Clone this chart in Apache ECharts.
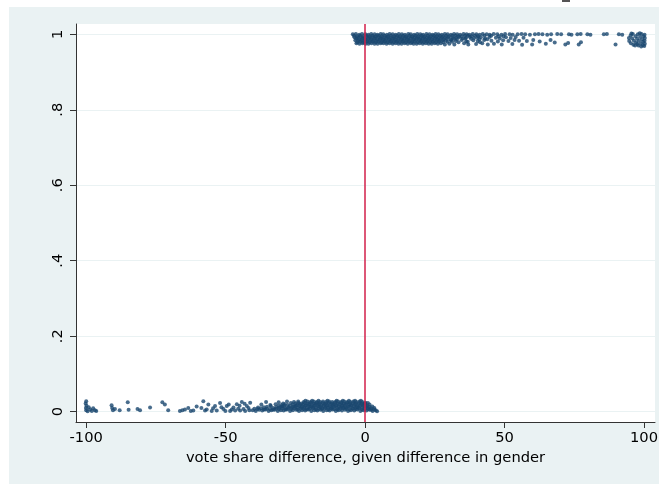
<!DOCTYPE html>
<html>
<head>
<meta charset="utf-8">
<script src="https://cdn.jsdelivr.net/npm/echarts@6/dist/echarts.min.js"></script>
<style>
  html, body { margin: 0; padding: 0; background: #fff; }
  #frame { position: absolute; left: 9px; top: 7px; width: 650px; height: 477px; background: #EAF2F3; }
  #chart { position: absolute; left: 0; top: 0; width: 659px; height: 484px; }
</style>
</head>
<body>
<div id="frame"></div>
<div id="chart"></div>
<script>
// Axis ticks and labels
const xTickVals = [-100, -50, 0, 50, 100];
const xTickText = ['-100', '-50', '0', '50', '100'];
const yTickVals = [0, 0.2, 0.4, 0.6, 0.8, 1];
const yTickText = ['0', '.2', '.4', '.6', '.8', '1'];
const xTitle = 'vote share difference, given difference in gender';
const cutoff = 0;

// Observations with outcome 0 (jittered upward), [margin, outcome]
const loseObs = [
  [-100,0.028],[-100.2,0.022],[-99.9,0.016],[-100.1,0.010],[-100,0.004],[-99.5,0.001],[-99.1,0.012],[-98.6,0.006],
  [-98.0,0.002],[-97.5,0.009],[-96.9,0.004],[-96.4,0.002],
  [-90.9,0.017],[-90.7,0.010],[-90.4,0.004],[-89.7,0.007],[-88.0,0.004],[-85.1,0.025],[-84.8,0.005],[-81.6,0.007],
  [-80.7,0.004],[-77.1,0.011],[-72.7,0.025],[-71.8,0.019],[-70.6,0.004],
  [-66.4,0.002],[-65.5,0.004],[-64.6,0.006],[-63.4,0.010],[-62.5,0.002],[-61.6,0.003],[-60.4,0.014],[-58.7,0.010],
  [-58.0,0.028],[-57.4,0.003],[-56.8,0.006],[-56.2,0.019],[-55.0,0.002],[-54.5,0.009],[-53.8,0.015],[-53.2,0.003],
  [-52.0,0.023],[-51.5,0.012],[-50.8,0.007],[-50.1,0.002],[-49.6,0.015],[-48.4,0.002],[-47.8,0.006],[-47.2,0.011],
  [-46.0,0.020],[-45.5,0.008],[-44.8,0.003],[-44.2,0.026],[-43.6,0.007],[-43.0,0.002],[-42.4,0.015],[-41.8,0.010],
  [-41.2,0.024],[-48.9,0.019],[-46.6,0.003],[-45.0,0.016],[-43.2,0.021],[-41.5,0.004],
  [-40.3,0.004],[-39.2,0.002],[-38.0,0.005],[-36.9,0.003],[-35.8,0.006],[-34.6,0.002],[-33.6,0.004],[-32.5,0.005],
  [-31.3,0.002],[-30.2,0.004],[-29.2,0.003],[-28.1,0.006],[-26.9,0.002],[-25.9,0.004],[-24.7,0.005],[-23.7,0.002],
  [-22.6,0.004],[-21.5,0.003],[-20.3,0.006],[-19.3,0.002],[-18.2,0.004],[-17.1,0.003],[-16.0,0.005],[-15.0,0.002],
  [-13.8,0.004],[-12.7,0.003],[-11.6,0.006],[-10.5,0.002],[-9.5,0.004],[-8.3,0.003],[-7.2,0.005],[-6.1,0.002],
  [-5.1,0.004],[-3.9,0.003],[-2.8,0.006],[-1.7,0.002],[-0.6,0.004],[0.5,0.003],[1.6,0.005],[2.7,0.002],
  [3.8,0.004],[4.3,0.001],
  [-39.7,0.008],[-38.6,0.007],[-37.4,0.009],[-36.3,0.006],[-35.2,0.008],[-34.1,0.007],[-33.0,0.006],[-31.9,0.008],
  [-30.8,0.007],[-29.7,0.009],[-28.6,0.006],[-27.5,0.008],[-26.4,0.007],[-25.3,0.009],[-24.2,0.006],[-23.1,0.008],
  [-22.0,0.007],[-20.9,0.006],[-19.8,0.008],[-18.7,0.009],[-17.6,0.006],[-16.5,0.008],[-15.4,0.007],[-14.3,0.009],
  [-13.2,0.006],[-12.1,0.008],[-11.0,0.007],[-9.9,0.006],[-8.8,0.008],[-7.7,0.009],[-6.6,0.007],[-5.5,0.006],
  [-4.4,0.008],[-3.3,0.007],[-2.2,0.009],[-1.1,0.006],[0.0,0.008],[1.1,0.007],[2.2,0.005],[3.3,0.006],
  [-38.4,0.011],[-36.3,0.012],[-35.2,0.013],[-33.0,0.010],[-31.9,0.012],[-30.8,0.011],[-29.6,0.013],[-28.5,0.010],
  [-27.5,0.012],[-26.3,0.011],[-25.2,0.013],[-24.1,0.011],[-23.0,0.012],[-21.9,0.012],[-20.9,0.010],[-19.8,0.013],
  [-18.6,0.011],[-17.6,0.011],[-16.5,0.013],[-15.4,0.010],[-14.3,0.012],[-13.2,0.011],[-12.1,0.011],[-11.1,0.013],
  [-10.0,0.010],[-8.9,0.012],[-7.8,0.011],[-6.7,0.011],[-5.6,0.013],[-4.5,0.010],[-3.4,0.012],[-2.3,0.011],
  [-1.1,0.011],[0.0,0.013],[1.1,0.010],[2.2,0.009],[3.3,0.010],
  [-33.8,0.015],[-31.0,0.016],[-29.9,0.014],[-28.9,0.016],[-27.0,0.015],[-25.8,0.014],[-24.8,0.016],[-23.6,0.015],
  [-22.5,0.014],[-21.4,0.016],[-20.3,0.015],[-19.2,0.014],[-18.1,0.016],[-17.0,0.015],[-15.9,0.014],[-14.8,0.016],
  [-13.7,0.015],[-12.6,0.014],[-11.5,0.016],[-10.4,0.015],[-9.4,0.014],[-8.3,0.016],[-7.2,0.015],[-6.1,0.014],
  [-5.0,0.016],[-3.9,0.015],[-2.8,0.014],[-1.7,0.016],[-0.6,0.015],[0.5,0.014],[1.5,0.013],[2.6,0.014],
  [-37.2,0.019],[-34.0,0.018],[-32.1,0.020],[-30.0,0.018],[-28.8,0.020],[-27.7,0.018],[-26.0,0.020],[-24.5,0.018],
  [-23.4,0.020],[-22.3,0.019],[-21.2,0.018],[-20.1,0.020],[-19.0,0.018],[-17.9,0.020],[-16.8,0.019],[-15.7,0.018],
  [-14.6,0.020],[-13.5,0.018],[-12.4,0.020],[-11.4,0.019],[-10.3,0.018],[-9.2,0.020],[-8.1,0.018],[-7.0,0.020],
  [-5.9,0.019],[-4.9,0.018],[-3.8,0.020],[-2.7,0.018],[-1.6,0.020],[-0.5,0.019],[0.6,0.017],[1.6,0.019],
  [-29.4,0.022],[-26.6,0.023],[-25.0,0.022],[-23.9,0.023],[-22.8,0.022],[-21.7,0.023],[-20.6,0.022],[-19.5,0.023],
  [-18.4,0.022],[-17.4,0.023],[-16.3,0.022],[-15.2,0.023],[-14.1,0.022],[-13.0,0.023],[-11.9,0.022],[-10.8,0.023],
  [-9.7,0.022],[-8.6,0.023],[-7.6,0.022],[-6.5,0.023],[-5.4,0.022],[-4.3,0.023],[-3.2,0.022],[-2.1,0.023],
  [-1.0,0.022],[0.1,0.021],[1.0,0.023],
  [-35.5,0.026],[-31.0,0.025],[-28.0,0.027],[-25.5,0.026],[-24.0,0.027],[-22.0,0.026],[-20.7,0.027],[-19.6,0.026],
  [-18.4,0.027],[-17.3,0.026],[-16.2,0.026],[-15.1,0.027],[-14.0,0.026],[-12.9,0.027],[-11.8,0.026],[-10.7,0.026],
  [-9.7,0.027],[-8.6,0.026],[-7.5,0.027],[-6.4,0.026],[-5.3,0.026],[-4.2,0.027],[-3.1,0.026],[-2.0,0.027],
  [-1.0,0.026],[0.1,0.024],
  [-21.4,0.029],[-19.0,0.029],[-16.7,0.029],[-13.5,0.029],[-10.2,0.029],[-8.0,0.029],[-5.8,0.029],[-3.6,0.029],
  [-1.5,0.029]
];

// Observations with outcome 1 (jittered downward), [margin, outcome]
const winObs = [
  [-4.4,1.0],[-3.3,1.001],[-2.1,0.999],[-1.1,1.001],[0.1,1.0],[1.2,0.999],[2.2,1.001],[3.4,1.0],[4.4,0.999],
  [5.6,1.001],[6.5,1.0],[7.8,0.999],[8.8,1.001],[9.9,1.0],[11.0,0.999],[12.1,1.001],[13.2,1.0],[14.3,0.999],
  [15.5,1.001],[16.4,1.0],[17.6,0.999],[18.7,1.001],[19.8,1.0],[20.8,0.999],[22.0,1.001],[23.1,1.0],[24.2,0.999],
  [25.3,1.001],[26.3,1.0],[27.5,0.999],[28.6,1.001],[29.6,1.0],[30.8,0.999],[31.9,1.001],[33.0,1.0],[34.1,0.999],
  [35.3,1.001],[36.4,1.0],[37.4,0.999],[38.6,1.001],[39.9,1.0],[41.1,0.999],[42.2,1.001],[43.6,1.0],[44.7,0.999],
  [46.1,1.001],[47.4,1.0],[48.9,0.999],[50.2,1.001],[51.8,1.0],[52.9,0.999],[54.7,1.0],[56.1,1.001],[57.4,1.0],
  [59.1,0.999],[60.9,1.0],[62.2,1.001],[63.6,1.0],[65.3,0.999],[66.7,1.0],[68.9,1.001],[70.3,1.0],[73.1,1.0],
  [74.0,0.999],[76.1,1.0],[77.3,1.001],[79.7,1.0],[80.8,0.999],[85.6,1.0],[86.7,1.001],[91.0,1.0],[92.2,0.999],
  [-4.0,0.996],[-2.9,0.995],[-1.8,0.996],[-0.7,0.995],[0.4,0.996],[1.5,0.995],[2.6,0.996],[3.7,0.995],
  [4.8,0.996],[5.9,0.995],[7.0,0.996],[8.1,0.995],[9.2,0.996],[10.3,0.995],[11.4,0.996],[12.5,0.995],
  [13.6,0.996],[14.7,0.995],[15.8,0.996],[16.9,0.995],[18.0,0.996],[19.1,0.995],[20.2,0.996],[21.3,0.995],
  [22.4,0.996],[23.5,0.995],[24.6,0.996],[25.7,0.995],[26.8,0.996],[27.9,0.995],[29.0,0.996],[30.1,0.995],
  [31.3,0.996],[32.4,0.996],[33.5,0.995],[34.6,0.995],[35.8,0.996],[36.9,0.996],[38.2,0.995],[39.4,0.996],
  [40.5,0.995],[42.8,0.996],[45.2,0.996],[47.9,0.995],[49.6,0.995],
  [-3.8,0.992],[-2.7,0.991],[-1.6,0.992],[-0.6,0.991],[0.5,0.992],[1.6,0.991],[2.7,0.992],[3.7,0.991],
  [4.9,0.992],[5.9,0.991],[7.0,0.991],[8.1,0.992],[9.2,0.991],[10.3,0.991],[11.3,0.992],[12.4,0.992],
  [13.5,0.991],[14.6,0.992],[15.6,0.991],[16.8,0.992],[17.8,0.991],[18.9,0.992],[20.0,0.991],[21.1,0.992],
  [22.2,0.991],[23.2,0.991],[24.4,0.992],[25.4,0.992],[26.5,0.991],[27.6,0.992],[28.7,0.991],[29.8,0.992],
  [31.4,0.990],[32.6,0.991],[33.7,0.992],[35.0,0.989],[36.2,0.991],[37.6,0.993],[39.1,0.990],[40.3,0.991],
  [41.5,0.992],[43.0,0.989],[44.6,0.993],[46.9,0.991],[48.3,0.989],[50.5,0.992],[52.2,0.990],[54.0,0.993],
  [56.8,0.991],
  [-3.2,0.988],[-2.1,0.987],[-1.0,0.988],[0.1,0.987],[1.1,0.988],[2.2,0.987],[3.3,0.988],[4.4,0.987],
  [5.5,0.988],[6.6,0.987],[7.6,0.988],[8.7,0.987],[9.8,0.988],[10.9,0.987],[12.0,0.988],[13.1,0.987],
  [14.1,0.988],[15.2,0.987],[16.3,0.988],[17.4,0.987],[18.5,0.988],[19.6,0.987],[20.6,0.988],[21.7,0.987],
  [22.8,0.988],[23.9,0.987],[25.0,0.988],[26.0,0.987],[27.1,0.988],[28.2,0.987],[29.3,0.988],[30.6,0.987],
  [31.8,0.988],[32.9,0.987],[35.9,0.988],[38.0,0.988],[41.0,0.987],[43.8,0.987],
  [-3.5,0.984],[-2.4,0.983],[-1.3,0.984],[-0.2,0.983],[0.8,0.983],[1.9,0.984],[3.0,0.983],[4.1,0.983],
  [5.2,0.984],[6.3,0.984],[7.3,0.983],[8.4,0.984],[9.5,0.983],[10.6,0.984],[11.7,0.983],[12.8,0.984],
  [13.8,0.983],[14.9,0.984],[16.0,0.983],[17.1,0.983],[18.2,0.984],[19.3,0.984],[20.3,0.983],[21.4,0.984],
  [22.5,0.983],[23.6,0.984],[24.7,0.983],[25.8,0.984],[26.8,0.983],[27.9,0.984],[29.0,0.983],
  [30.8,0.984],[32.5,0.982],[34.6,0.985],[36.3,0.981],[38.8,0.984],[40.4,0.982],[42.7,0.985],[45.3,0.983],
  [47.6,0.981],[49.5,0.984],[51.4,0.982],[53.6,0.985],[55.2,0.983],[58.0,0.982],[60.3,0.985],[62.6,0.981],
  [-2.8,0.979],[-1.7,0.980],[-0.6,0.979],[0.5,0.980],[1.6,0.979],[2.7,0.980],[3.8,0.979],[4.8,0.980],
  [5.9,0.979],[7.0,0.980],[8.1,0.979],[9.2,0.980],[10.3,0.979],[11.3,0.980],[12.4,0.979],[13.5,0.980],
  [14.6,0.979],[15.7,0.980],[16.8,0.979],[17.8,0.980],[18.9,0.979],[20.0,0.980],[21.1,0.979],[22.2,0.980],
  [23.3,0.979],[24.3,0.980],[25.4,0.979],[26.5,0.980],[28.0,0.979],[29.6,0.980],[31.2,0.980],[33.5,0.979],
  [36.8,0.980],[41.2,0.979],
  [-3.1,0.976],[-2.0,0.975],[-0.9,0.976],[0.2,0.975],[1.2,0.975],[2.3,0.976],[3.4,0.975],[4.5,0.975],
  [5.6,0.976],[6.6,0.976],[7.7,0.975],[8.8,0.976],[9.9,0.975],[11.0,0.976],[12.0,0.975],[13.1,0.975],
  [14.2,0.976],[15.3,0.975],[16.4,0.976],[17.4,0.975],[18.5,0.975],[19.6,0.976],[20.7,0.975],[21.8,0.976],
  [22.8,0.975],[23.9,0.975],[25.0,0.976],[26.1,0.975],[27.2,0.976],
  [28.6,0.973],[30.2,0.975],[32.0,0.973],[35.5,0.976],[37.0,0.973],[39.8,0.974],[42.0,0.976],[44.0,0.973],
  [46.2,0.975],[49.0,0.973],[52.8,0.974],[56.3,0.972],[59.9,0.973],
  [64.8,0.975],[66.5,0.985],[68.0,0.978],[71.8,0.973],[72.8,0.977],[76.6,0.973],[77.4,0.979],[89.8,0.973],
  [94.6,0.990],[94.7,0.982],[95.2,0.997],[95.3,0.976],[95.8,0.989],[96.0,1.001],[96.2,0.972],[96.4,0.983],
  [97.0,0.995],[97.2,0.978],[97.5,0.988],[97.8,1.0],[98.0,0.970],[98.2,0.983],[98.6,0.993],[98.9,0.976],
  [99.1,1.001],[99.3,0.987],[99.6,0.971],[99.7,0.980],[99.9,0.995],[100.2,0.999],[100.3,0.990],[100.2,0.983],
  [100.3,0.975],[100.1,0.969],[95.5,1.002],[96.8,0.970],[98.5,1.003],[97.6,0.974],[99.0,0.968]
];

const FONT = 'DejaVu Sans';
const AXIS_COLOR = '#333333';
const MARKER = '#1A476F';

function lookup(vals, texts, v) {
  for (let i = 0; i < vals.length; i++) {
    if (Math.abs(vals[i] - v) < 1e-9) return texts[i];
  }
  return '';
}

const chart = echarts.init(document.getElementById('chart'), null, { renderer: 'canvas' });

chart.setOption({
  backgroundColor: 'transparent',
  animation: false,
  graphic: [
    { type: 'rect', shape: { x: 562, y: 0, width: 8, height: 2 }, style: { fill: '#555555' } }
  ],
  grid: {
    left: 76, right: 4, top: 24, bottom: 62,
    show: true, backgroundColor: '#ffffff', borderWidth: 0,
    outerBoundsMode: 'none'
  },
  xAxis: {
    type: 'value',
    min: -103.66, max: 103.95,
    axisLine: { show: true, onZero: false, lineStyle: { color: AXIS_COLOR, width: 1 } },
    axisTick: { show: true, length: 6, customValues: xTickVals, lineStyle: { color: AXIS_COLOR } },
    axisLabel: {
      customValues: xTickVals,
      formatter: v => lookup(xTickVals, xTickText, v),
      fontFamily: FONT, fontSize: 14.7, color: '#000', margin: 9
    },
    splitLine: { show: false },
    name: xTitle,
    nameLocation: 'middle',
    nameGap: 28,
    nameTextStyle: { fontFamily: FONT, fontSize: 14.7, color: '#000' }
  },
  yAxis: {
    type: 'value',
    min: -0.0273, max: 1.0273,
    axisLine: { show: true, onZero: false, lineStyle: { color: AXIS_COLOR, width: 1 } },
    axisTick: { show: true, length: 6, customValues: yTickVals, lineStyle: { color: AXIS_COLOR } },
    axisLabel: {
      customValues: yTickVals,
      formatter: v => lookup(yTickVals, yTickText, v),
      rotate: 90,
      fontFamily: FONT, fontSize: 14.7, color: '#000', margin: 10
    },
    splitLine: { show: true, lineStyle: { color: '#EAF2F3', width: 1 } }
  },
  series: [
    {
      type: 'line',
      data: [],
      z: 1,
      silent: true,
      markLine: {
        silent: true,
        symbol: ['none', 'none'],
        label: { show: false },
        lineStyle: { color: '#D21F4A', width: 1.5, type: 'solid' },
        data: [{ xAxis: cutoff }]
      }
    },
    {
      type: 'scatter',
      z: 2,
      data: loseObs,
      symbol: 'circle',
      symbolSize: 4,
      itemStyle: { color: MARKER }
    },
    {
      type: 'scatter',
      z: 2,
      data: winObs,
      symbol: 'circle',
      symbolSize: 4,
      itemStyle: { color: MARKER }
    }
  ]
});
</script>
</body>
</html>
